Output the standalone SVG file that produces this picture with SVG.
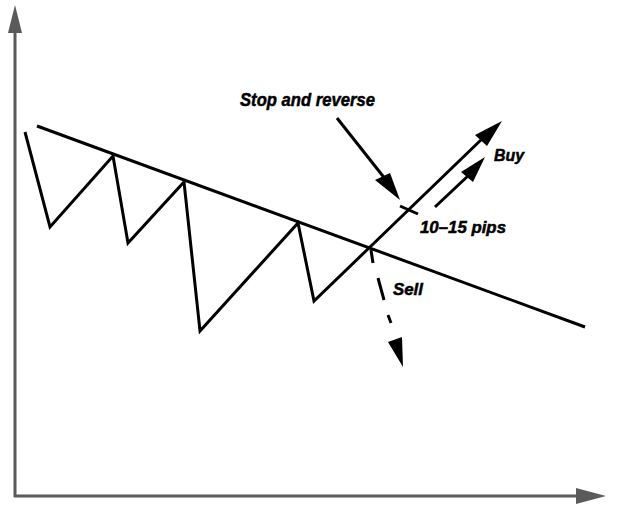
<svg xmlns="http://www.w3.org/2000/svg" width="625" height="508" viewBox="0 0 625 508">
<style>
.ax{stroke:#5a5a5a;stroke-width:3;fill:none}
.axh{fill:#5a5a5a}
.ln{stroke:#000;stroke-width:3;fill:none;stroke-linejoin:miter}
.lbl{font-family:"Liberation Sans",Arial,sans-serif;font-weight:bold;font-style:italic;fill:#000;stroke:#000;stroke-width:0.5}
</style>
<rect width="625" height="508" fill="#fff"/>
<g id="axes">
<line class="ax" x1="15" y1="30" x2="15" y2="497"/>
<polygon class="axh" points="15,5 8,33 22,33"/>
<line class="ax" x1="14" y1="496" x2="580" y2="496"/>
<polygon class="axh" points="606,496 576,488 576,504"/>
</g>
<g id="chart">
<polyline class="ln" points="25,132 50,227 113,156 128,243 184,182 200,331 298,223 314,301 370,247 484,137"/>
<polygon points="502,121 475,135 487,146" fill="#000"/>
<line class="ln" x1="37" y1="126" x2="585" y2="327"/>
<line class="ln" x1="400" y1="206" x2="418" y2="214"/>
</g>
<g id="connectors">
<line class="ln" x1="337" y1="118" x2="386" y2="180"/>
<polygon points="400,200 375,180 390,173" fill="#000"/>
<line class="ln" x1="435" y1="207" x2="470" y2="174"/>
<polygon points="485,157 461,172 473,182" fill="#000"/>
<line class="ln" x1="371" y1="250" x2="373" y2="263"/>
<line class="ln" x1="378" y1="278" x2="384" y2="300"/>
<line class="ln" x1="388" y1="315" x2="391" y2="323"/>
<polygon points="403,367 388,342 402,337" fill="#000"/>
</g>
<g id="labels">
<text class="lbl" x="240" y="106" font-size="18.5" textLength="135" lengthAdjust="spacingAndGlyphs">Stop and reverse</text>
<text class="lbl" x="494" y="161" font-size="17" textLength="30" lengthAdjust="spacingAndGlyphs">Buy</text>
<text class="lbl" x="420" y="233" font-size="17" textLength="86" lengthAdjust="spacingAndGlyphs">10–15 pips</text>
<text class="lbl" x="393" y="295" font-size="17" textLength="30" lengthAdjust="spacingAndGlyphs">Sell</text>
</g>
</svg>
